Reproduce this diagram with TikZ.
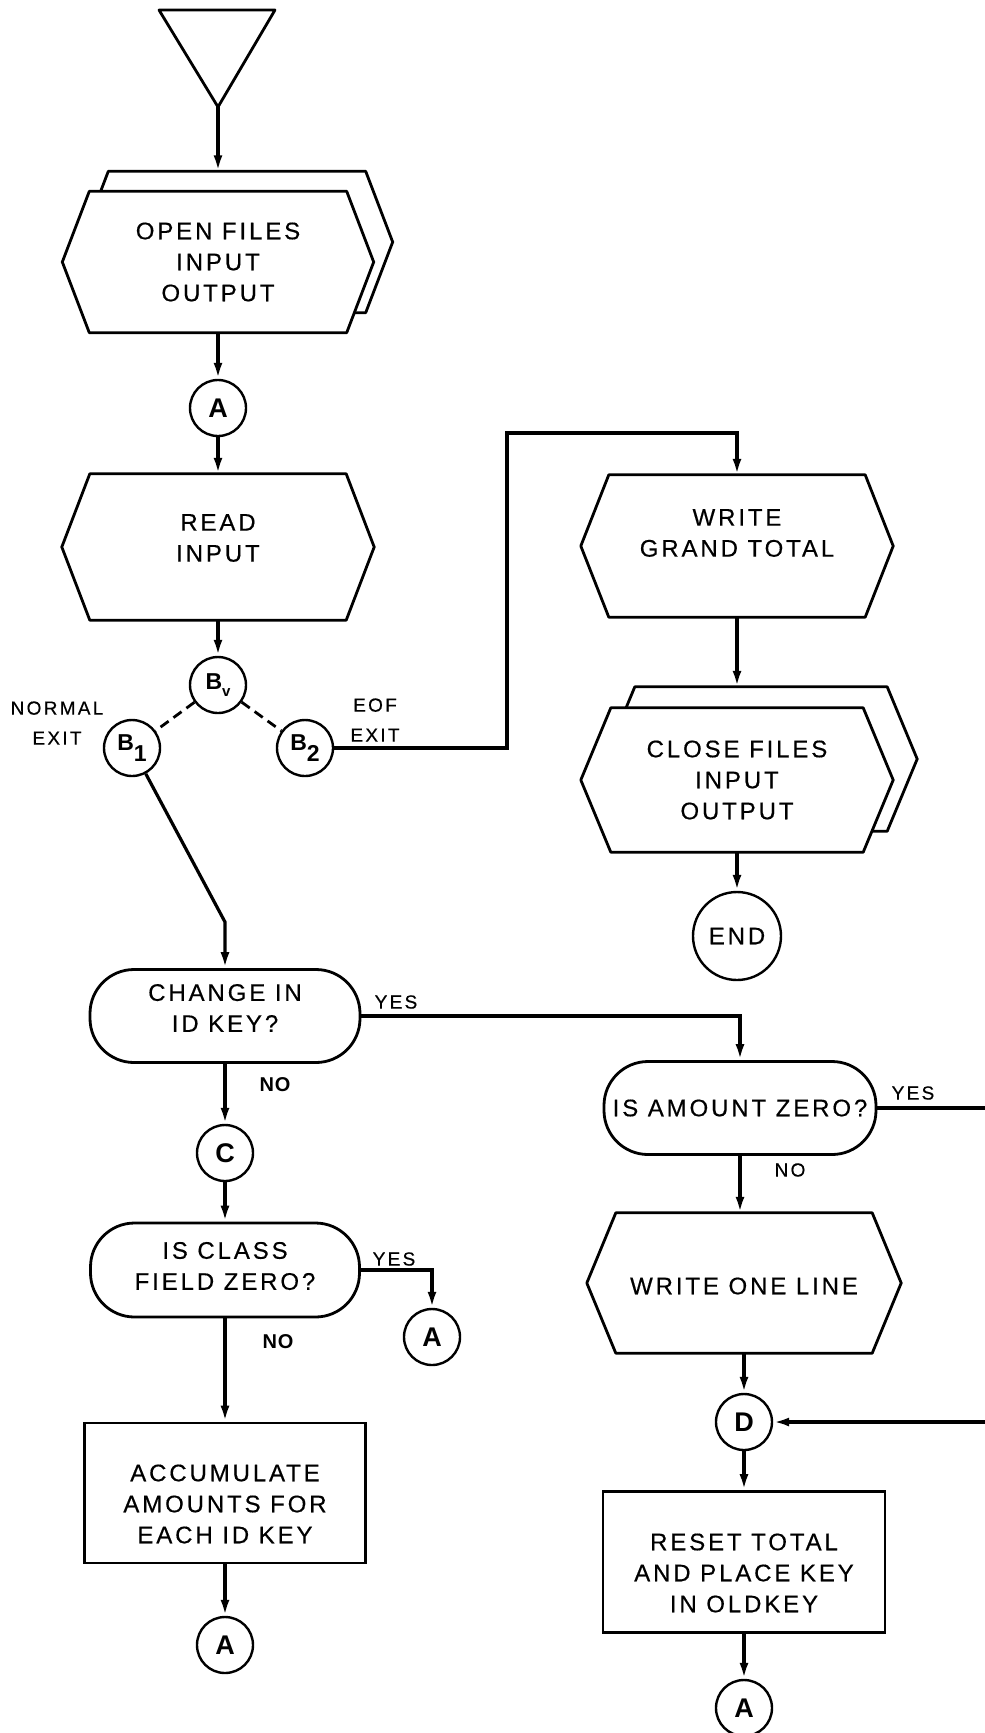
\documentclass[tikz,border=0pt]{standalone}
\usepackage{fontspec}
\setmainfont{Liberation Sans}
\newfontfamily\lbl[LetterSpace=12,FakeBold=0.4]{Liberation Sans}
\newfontfamily\lblb[LetterSpace=4]{Liberation Sans Bold}
\usetikzlibrary{arrows.meta,calc}
\pgfdeclarelayer{bg}
\pgfsetlayers{bg,main}
\newcommand\hexdraw[2]{\draw[shp] ($(#1.north west)+(#2,0)$) -- ($(#1.north east)+(-#2,0)$) -- (#1.east) -- ($(#1.south east)+(-#2,0)$) -- ($(#1.south west)+(#2,0)$) -- (#1.west) -- cycle;}
\tikzset{
  every node/.style={font=\lbl\fontsize{24}{31}\selectfont, inner sep=0pt},
  txt/.style={align=center},
  frame/.style={rectangle, draw=none},
  shp/.style={line width=2.8pt, fill=white, line join=round},
  conn/.style={line width=3.2pt},
  arr/.style={conn, -{Latex[length=16pt,width=9pt]}},
  dashconn/.style={line width=2.8pt, dash pattern=on 10pt off 6pt},
  conncircle/.style={circle, draw, line width=2.4pt, minimum size=56pt, inner sep=0pt, font=\lblb\fontsize{27}{27}\selectfont},
  bcircle/.style={conncircle, font=\lblb\fontsize{23}{23}\selectfont},
  stadium/.style={rectangle, draw, line width=2.8pt, rounded corners=44pt},
  proc/.style={rectangle, draw, line width=2.8pt},
  small/.style={font=\lbl\fontsize{19}{30}\selectfont, align=center},
  smallb/.style={font=\lblb\fontsize{20}{30}\selectfont, align=center},
}
\begin{document}
\begin{tikzpicture}[x=1pt,y=-1pt]
\useasboundingbox (0,0) rectangle (985,1733);
% start triangle
\coordinate (tip) at (218,107);
% left column
\node[frame, minimum width=311pt, minimum height=141pt] (ofb) at (237,242) {};
\node[frame, minimum width=311pt, minimum height=141pt, label={[txt]center:OPEN FILES\\INPUT\\OUTPUT}] (of) at (218,262) {};
\node[conncircle] (a1) at (218,408) {A};
\node[frame, minimum width=312pt, minimum height=146pt, label={[txt,yshift=9pt]center:READ\\INPUT}] (ri) at (218,547) {};
\node[bcircle] (bv) at (218,685) {B\raisebox{-7pt}{\fontsize{15}{15}\selectfont v}};
\node[bcircle] (b1) at (132,748) {B\raisebox{-11pt}{1}};
\node[bcircle] (b2) at (305,748) {B\raisebox{-11pt}{2}};
\node[small] (nrm) at (57,723) {NORMAL\\EXIT};
\node[small] (eof) at (375,720) {EOF\\EXIT};
\coordinate (bend) at (225,922);
\coordinate (eofup) at (507,433);
\node[stadium, minimum width=270pt, minimum height=93pt, label={[txt,yshift=8pt]center:CHANGE IN\\ID KEY?}] (cik) at (225,1016) {};
\node[small] (yes1) at (396,1002) {YES};
\node[smallb] (no1) at (275,1085) {NO};
\node[conncircle] (c) at (225,1153) {C};
\node[stadium, minimum width=269pt, minimum height=94pt, label={[txt,yshift=4pt]center:IS CLASS\\FIELD ZERO?}] (icfz) at (225,1270) {};
\node[small] (yes2) at (394,1259) {YES};
\node[conncircle] (a2) at (432,1337) {A};
\node[smallb] (no2) at (278,1342) {NO};
\node[proc, minimum width=281pt, minimum height=140pt, label={[txt,yshift=-11pt]center:ACCUMULATE\\AMOUNTS FOR\\EACH ID KEY}] (acc) at (225,1493) {};
\node[conncircle] (a3) at (225,1645) {A};
% right column
\node[frame, minimum width=312pt, minimum height=142pt, label={[txt,yshift=13pt]center:WRITE\\GRAND TOTAL}] (wgt) at (737,546) {};
\node[frame, minimum width=312pt, minimum height=144pt] (cfb) at (761,759) {};
\node[frame, minimum width=312pt, minimum height=144pt, label={[txt]center:CLOSE FILES\\INPUT\\OUTPUT}] (cf) at (737,780) {};
\node[circle, draw, line width=2.4pt, minimum size=88pt] (end) at (737,936) {END};
\node[stadium, minimum width=272pt, minimum height=93pt] (iaz) at (740,1108) {IS AMOUNT ZERO?};
\node[small] (yes3) at (913,1093) {YES};
\node[small] (no3) at (790,1170) {NO};
\node[frame, minimum width=314pt, minimum height=140pt, label={[txt,yshift=-3pt]center:WRITE ONE LINE}] (wol) at (744,1283) {};
\node[conncircle] (d) at (744,1422) {D};
\node[proc, minimum width=282pt, minimum height=141pt, label={[txt,yshift=-11pt]center:RESET TOTAL\\AND PLACE KEY\\IN OLDKEY}] (rst) at (744,1562) {};
\node[conncircle] (a4) at (744,1708) {A};
\coordinate (loopx) at (1010,0);
% frames
\begin{pgfonlayer}{bg}
\fill[white] (0,0) rectangle (985,1733);
\draw[shp] (159,10) -- (275,10) -- (tip) -- cycle;
\hexdraw{ofb}{27}
\hexdraw{of}{27}
\hexdraw{ri}{28}
\hexdraw{wgt}{28}
\hexdraw{cfb}{30}
\hexdraw{cf}{30}
\hexdraw{wol}{29}
\end{pgfonlayer}
% connectors
\draw[arr] (tip) -- (tip |- ofb.north);
\draw[arr] (of.south) -- (a1.north);
\draw[arr] (a1.south) -- (ri.north);
\draw[arr] (ri.south) -- (bv.north);
\draw[dashconn] (bv) -- (b1);
\draw[dashconn] (bv) -- (b2);
\draw[arr] (b1) -- (bend) -- (cik.north);
\draw[arr] (b2.east) -| (eofup) -| (wgt.north);
\draw[arr] (wgt.south) -- (wgt.south |- cfb.north);
\draw[arr] (cf.south) -- (end.north);
\draw[arr] (cik.east) -| (iaz.north);
\draw[arr] (cik.south) -- (c.north);
\draw[arr] (c.south) -- (icfz.north);
\draw[arr] (icfz.east) -| (a2.north);
\draw[arr] (icfz.south) -- (acc.north);
\draw[arr] (acc.south) -- (a3.north);
\draw[arr] (iaz.east) -- (iaz.east -| loopx) |- (d.east);
\draw[arr] (iaz.south) -- (iaz.south |- wol.north);
\draw[arr] (wol.south) -- (d.north);
\draw[arr] (d.south) -- (rst.north);
\draw[arr] (rst.south) -- (a4.north);
\end{tikzpicture}
\end{document}
